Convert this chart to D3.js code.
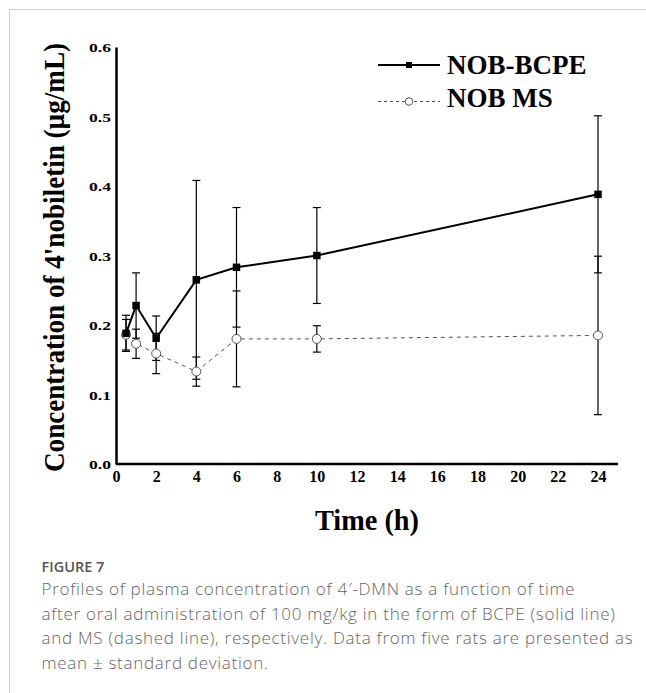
<!DOCTYPE html>
<html>
<head>
<meta charset="utf-8">
<script src="https://cdn.jsdelivr.net/npm/d3@7"></script>
<style>
body{margin:0;background:#fff;}
svg{display:block;}
</style>
</head>
<body>
<div class="container"></div>
<script>
//data: time points, means and standard deviations
const times = [0.5, 1, 2, 4, 6, 10, 24];
const bcpeMean = [0.188, 0.228, 0.181, 0.265, 0.283, 0.300, 0.388];
const bcpeSD = [0.026, 0.047, 0.032, 0.143, 0.086, 0.069, 0.113];
const msMean = [0.186, 0.173, 0.159, 0.133, 0.180, 0.180, 0.185];
const msSD = [0.022, 0.021, 0.029, 0.021, 0.069, 0.019, 0.114];
const xTicks = [0, 2, 4, 6, 8, 10, 12, 14, 16, 18, 20, 22, 24];
const yTicks = [0, 0.1, 0.2, 0.3, 0.4, 0.5, 0.6];
const seriesNames = ["NOB-BCPE", "NOB MS"];
const captionTitle = "FIGURE 7";
const captionLines = [
    "Profiles of plasma concentration of 4\u2032-DMN as a function of time",
    "after oral administration of 100 mg/kg in the form of BCPE (solid line)",
    "and MS (dashed line), respectively. Data from five rats are presented as",
    "mean \u00b1 standard deviation."
];

const W = 646, H = 693;
const plot = {left:116, right:618, top:47, bottom:464};
const serif = "'Liberation Serif','Times New Roman',serif";

const svg = d3.select("div.container").append("svg")
    .attr("width", W)
    .attr("height", H);

//light frame on top and left
svg.append("line").attr("x1",9).attr("x2",W).attr("y1",9.5).attr("y2",9.5)
    .attr("stroke","#cfcfcf").attr("stroke-width",1);
svg.append("line").attr("x1",9.5).attr("x2",9.5).attr("y1",9).attr("y2",H)
    .attr("stroke","#cfcfcf").attr("stroke-width",1);

//scales
const x = d3.scaleLinear().domain([0, 24]).range([plot.left, 598]);
const y = d3.scaleLinear().domain([0, 0.6]).range([plot.bottom, plot.top]);

//axes
const yAxis = svg.append("g")
    .attr("transform",`translate(${plot.left},0)`)
    .call(d3.axisLeft(y).tickValues(yTicks).tickSize(0).tickPadding(5).tickFormat(d3.format(".1f")));
yAxis.select(".domain").attr("stroke","#000").attr("stroke-width",2.5);
yAxis.selectAll("text")
    .attr("font-family",serif).attr("font-weight","bold").attr("font-size",13.5)
    .attr("fill","#000")
    .attr("dy","0.36em")
    .attr("textLength",22).attr("lengthAdjust","spacingAndGlyphs");

const xAxis = svg.append("g")
    .attr("transform",`translate(0,${plot.bottom})`)
    .call(d3.axisBottom(x).tickValues(xTicks).tickSize(0).tickPadding(7).tickFormat(d3.format("d")));
xAxis.select(".domain")
    .attr("d",`M${plot.left},0H${plot.right}`)
    .attr("stroke","#000").attr("stroke-width",2.5);
xAxis.selectAll("text")
    .attr("font-family",serif).attr("font-weight","bold").attr("font-size",16)
    .attr("fill","#000");

//axis titles
svg.append("text")
    .attr("transform",`translate(63.5,257.5) rotate(-90)`)
    .attr("text-anchor","middle")
    .attr("font-family",serif).attr("font-weight","bold").attr("font-size",29)
    .attr("textLength",429).attr("lengthAdjust","spacingAndGlyphs")
    .text("Concentration of 4'nobiletin (\u00b5g/mL)");

svg.append("text")
    .attr("x",(plot.left+plot.right)/2).attr("y",530)
    .attr("text-anchor","middle")
    .attr("font-family",serif).attr("font-weight","bold").attr("font-size",29)
    .attr("textLength",104).attr("lengthAdjust","spacingAndGlyphs")
    .text("Time (h)");

//build the two series
const bcpe = times.map((t,i)=>({t:t, m:bcpeMean[i], sd:bcpeSD[i]}));
const ms = times.map((t,i)=>({t:t, m:msMean[i], sd:msSD[i]}));

const line = d3.line().x(d=>x(d.t)).y(d=>y(d.m));

//error bars (vertical whisker plus caps)
function errorBars(data) {
    const g = svg.append("g").attr("stroke","#000").attr("stroke-width",1.2);
    g.selectAll("line.v").data(data).enter().append("line")
        .attr("x1",d=>x(d.t)).attr("x2",d=>x(d.t))
        .attr("y1",d=>y(d.m+d.sd)).attr("y2",d=>y(d.m-d.sd));
    g.selectAll("line.top").data(data).enter().append("line")
        .attr("x1",d=>x(d.t)-4).attr("x2",d=>x(d.t)+4)
        .attr("y1",d=>y(d.m+d.sd)).attr("y2",d=>y(d.m+d.sd));
    g.selectAll("line.bot").data(data).enter().append("line")
        .attr("x1",d=>x(d.t)-4).attr("x2",d=>x(d.t)+4)
        .attr("y1",d=>y(d.m-d.sd)).attr("y2",d=>y(d.m-d.sd));
}
errorBars(ms);
errorBars(bcpe);

//MS dashed line with open circles
svg.append("path").datum(ms)
    .attr("d",line)
    .attr("fill","none").attr("stroke","#555").attr("stroke-width",1)
    .attr("stroke-dasharray","4,4");
svg.selectAll("circle.ms").data(ms).enter().append("circle")
    .attr("cx",d=>x(d.t)).attr("cy",d=>y(d.m)).attr("r",4.5)
    .attr("fill","#fff").attr("stroke","#555").attr("stroke-width",1);

//BCPE solid line with filled squares
svg.append("path").datum(bcpe)
    .attr("d",line)
    .attr("fill","none").attr("stroke","#000").attr("stroke-width",2);
svg.selectAll("rect.bcpe").data(bcpe).enter().append("rect")
    .attr("x",d=>x(d.t)-3.75).attr("y",d=>y(d.m)-3.75)
    .attr("width",7.5).attr("height",7.5).attr("fill","#000");

//legend
const legend = svg.append("g").attr("id","legend");
legend.append("line").attr("x1",378).attr("x2",440).attr("y1",65).attr("y2",65)
    .attr("stroke","#000").attr("stroke-width",2);
legend.append("rect").attr("x",406).attr("y",62).attr("width",6).attr("height",6).attr("fill","#000");
legend.append("line").attr("x1",378).attr("x2",440).attr("y1",101.5).attr("y2",101.5)
    .attr("stroke","#555").attr("stroke-width",1).attr("stroke-dasharray","3,3");
legend.append("circle").attr("cx",409).attr("cy",101.5).attr("r",3.8)
    .attr("fill","#fff").attr("stroke","#555").attr("stroke-width",1);
legend.selectAll("text").data(seriesNames).enter().append("text")
    .attr("x",447).attr("y",(d,i)=>74+i*33)
    .attr("font-family",serif).attr("font-weight","bold").attr("font-size",27)
    .text(d=>d);

//caption
svg.append("text")
    .attr("x",41.5).attr("y",572)
    .attr("font-family","'Open Sans',sans-serif").attr("font-weight",600).attr("font-size",14.5)
    .attr("fill","#555")
    .text(captionTitle);
svg.selectAll("text.caption").data(captionLines).enter().append("text")
    .attr("class","caption")
    .attr("x",41.5).attr("y",(d,i)=>595+i*24.5)
    .attr("font-family","'Open Sans',sans-serif").attr("font-weight",300).attr("font-size",17)
    .attr("letter-spacing",0.72)
    .attr("fill","#666")
    .text(d=>d);
</script>
</body>
</html>
